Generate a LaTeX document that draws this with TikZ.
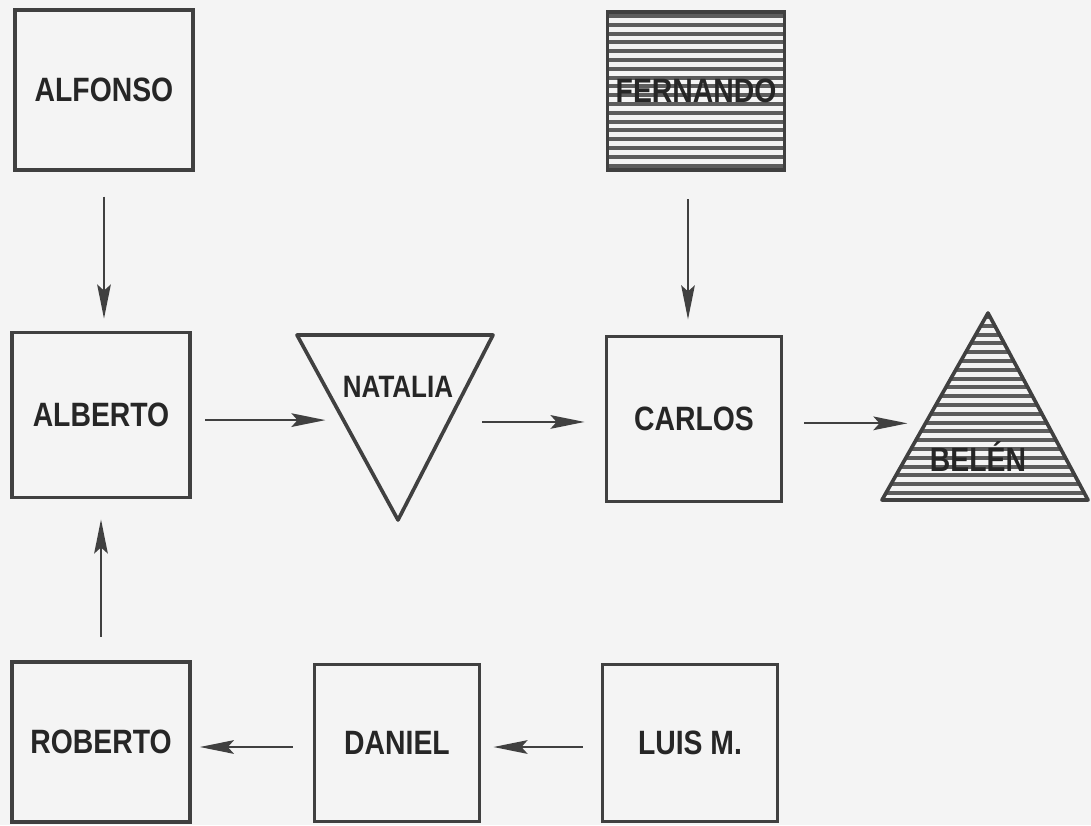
\documentclass[tikz,border=0pt]{standalone}
\usepackage{fontspec}
\setmainfont{Liberation Sans}[FakeStretch=0.84]
\usetikzlibrary{arrows.meta,calc}
\definecolor{ink}{HTML}{404040}
\definecolor{letra}{HTML}{262626}
\definecolor{papel}{HTML}{F4F4F4}
\tikzset{
	persona/.style={draw=ink, line width=2.6pt, minimum width=4.4cm, minimum height=4.05cm, inner sep=0pt, font=\bfseries\fontsize{24}{24}\selectfont, text=letra},
	nombre/.style={inner sep=0pt, font=\bfseries\fontsize{24}{24}\selectfont, text=letra},
	rayado/.style={path picture={
		\foreach \k in {0,...,24}
			\draw[ink!85, line width=0.1cm] ([yshift=-0.1cm-\k*0.22cm]path picture bounding box.north west) -- ([yshift=-0.1cm-\k*0.22cm]path picture bounding box.north east);
	}},
	flecha/.style={draw=ink, line width=1.6pt, -{Stealth[length=0.85cm,width=0.34cm,inset=0.15cm]}},
}
\begin{document}
\begin{tikzpicture}[x=0.025cm, y=-0.025cm]
				\useasboundingbox (0,0) rectangle (1091,825);
				\fill[papel] (0,0) rectangle (1091,825);
				
				\node[persona, minimum width=4.45cm, minimum height=4cm] (alfonso) at (104,90) {ALFONSO};
				\node[persona, rayado, minimum width=4.43cm, minimum height=3.95cm] (fernando) at (696,91) {FERNANDO};
				
				\node[persona, minimum width=4.45cm, minimum height=4.13cm] (alberto) at (101,415) {ALBERTO};
				\node[persona, minimum width=4.38cm, minimum height=4.13cm] (carlos) at (694,419) {CARLOS};
				
				\node[persona, minimum width=4.45cm, minimum height=4cm] (roberto) at (101,742) {ROBERTO};
				\node[persona, minimum width=4.13cm, minimum height=3.93cm] (daniel) at (397,743) {DANIEL};
				\node[persona, minimum width=4.38cm, minimum height=3.93cm] (luis) at (690,743) {LUIS M.};
				
				\coordinate (nat-a) at (297,335);
				\coordinate (nat-b) at (493,335);
				\coordinate (nat-c) at (398,520);
				\draw[ink, line width=2.6pt, line join=round] (nat-a) -- (nat-b) -- (nat-c) -- cycle;
				\node[nombre, font=\bfseries\fontsize{22}{22}\selectfont] (natalia) at (398,387) {NATALIA};
				
				\coordinate (bel-a) at (988,313);
				\coordinate (bel-b) at (882,500);
				\coordinate (bel-c) at (1088,500);
				\draw[ink, rayado, line width=2.6pt, line join=round] (bel-a) -- (bel-b) -- (bel-c) -- cycle;
				\node[nombre] (belen) at (978,457) {BELÉN};
				
				\coordinate (natalia-w) at ($(nat-a)!0.46!(nat-c)$);
				\coordinate (natalia-e) at ($(nat-b)!0.47!(nat-c)$);
				\coordinate (belen-w) at ($(bel-a)!0.59!(bel-b)$);
				
				\draw[flecha, shorten <=0.62cm, shorten >=0.3cm] (alfonso.south) -- (alfonso.south |- alberto.north);
				\draw[flecha, shorten <=0.68cm, shorten >=0.38cm] ([xshift=-0.2cm]fernando.south) -- ([xshift=-0.2cm]fernando.south |- carlos.north);
				\draw[flecha, shorten <=0.33cm, shorten >=0.45cm] (alberto.east |- natalia-w) -- (natalia-w);
				\draw[flecha, shorten <=0.85cm, shorten >=0.5cm] (natalia-e) -- (natalia-e -| carlos.west);
				\draw[flecha, shorten <=0.52cm, shorten >=0.45cm] (carlos.east |- belen-w) -- (belen-w);
				\draw[flecha, shorten <=0.45cm, shorten >=0.3cm] ([yshift=-0.1cm]luis.west) -- ([yshift=-0.1cm]daniel.east);
				\draw[flecha, shorten <=0.5cm, shorten >=0.2cm] ([yshift=-0.1cm]daniel.west) -- ([yshift=-0.1cm]daniel.west -| roberto.east);
				\draw[flecha, shorten <=0.58cm, shorten >=0.5cm] (roberto.north) -- (roberto.north |- alberto.south);
			\end{tikzpicture}
\end{document}
